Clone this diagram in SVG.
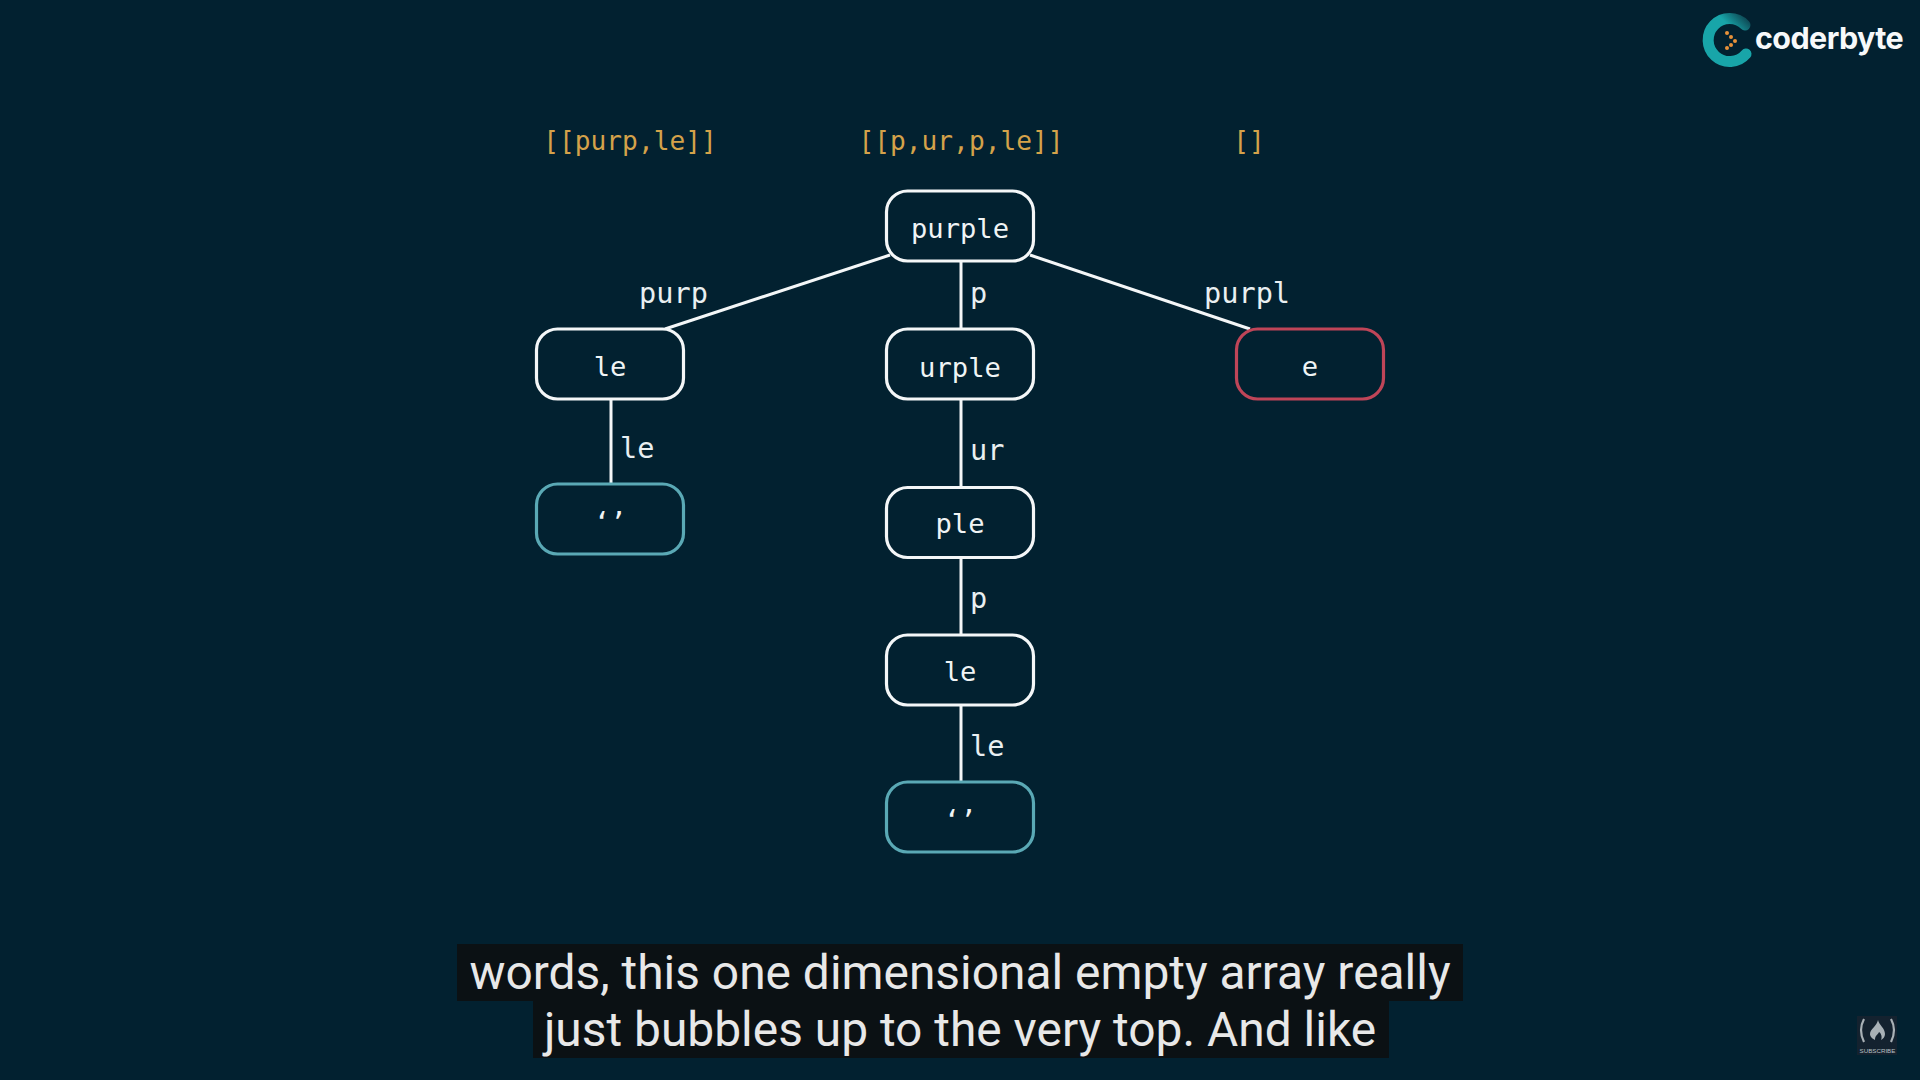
<svg xmlns="http://www.w3.org/2000/svg" width="1920" height="1080" viewBox="0 0 1920 1080">
<defs>
<style>
.n rect{fill:#022130;stroke:#f4f7f8;stroke-width:3.2}
.n.leaf rect{stroke:#5aa9b5}
.n.bad rect{stroke:#bf4558}
text{font-family:"DejaVu Sans Mono","Liberation Mono",monospace}
.t{font-size:27.2px;fill:#f0f4f5;text-anchor:middle}
.l{font-size:28.6px;fill:#e9eff1}
.r{font-size:26.2px;fill:#d4a24a;text-anchor:middle}
.c{font-family:Roboto,"Liberation Sans",sans-serif;font-size:47.9px;fill:#e8e8e8;text-anchor:middle}
#connectors line{stroke:#f4f7f8;stroke-width:3;fill:none}
</style>
<linearGradient id="cg" gradientUnits="userSpaceOnUse" x1="1712" y1="52" x2="1748" y2="16"><stop offset="0.6" stop-color="#18a5a9"/><stop offset="1" stop-color="#0c3b48"/></linearGradient>
</defs>
<rect width="1920" height="1080" fill="#022130"/>
<g id="results">
<text class="r" x="630" y="150">[[purp,le]]</text>
<text class="r" x="961" y="150">[[p,ur,p,le]]</text>
<text class="r" x="1249" y="150">[]</text>
</g>
<g id="connectors">
<line x1="890" y1="255" x2="665" y2="329"/>
<line x1="961" y1="262" x2="961" y2="329"/>
<line x1="1030" y1="255" x2="1250" y2="329"/>
<line x1="611" y1="400" x2="611" y2="484"/>
<line x1="961" y1="400" x2="961" y2="487"/>
<line x1="961" y1="558" x2="961" y2="635"/>
<line x1="961" y1="705" x2="961" y2="782"/>
</g>
<g id="edge-labels">
<text class="l" x="639" y="303">purp</text>
<text class="l" x="970" y="303">p</text>
<text class="l" x="1204" y="303">purpl</text>
<text class="l" x="620" y="458">le</text>
<text class="l" x="970" y="460">ur</text>
<text class="l" x="970" y="608">p</text>
<text class="l" x="970" y="756">le</text>
</g>
<g id="n-purple" class="n"><rect x="886.500" y="191" width="147" height="70" rx="21"/><text class="t" x="960" y="238">purple</text></g>
<g id="n-le1" class="n"><rect x="536.500" y="329" width="147" height="70" rx="21"/><text class="t" x="610" y="376">le</text></g>
<g id="n-urple" class="n"><rect x="886.500" y="329" width="147" height="70" rx="21"/><text class="t" x="960" y="377">urple</text></g>
<g id="n-e" class="n bad"><rect x="1236.500" y="329" width="147" height="70" rx="21"/><text class="t" x="1310" y="376">e</text></g>
<g id="n-empty1" class="n leaf"><rect x="536.500" y="484" width="147" height="70" rx="21"/><text class="t" x="610" y="531">‘’</text></g>
<g id="n-ple" class="n"><rect x="886.500" y="487.500" width="147" height="70" rx="21"/><text class="t" x="960" y="533">ple</text></g>
<g id="n-le2" class="n"><rect x="886.500" y="635" width="147" height="70" rx="21"/><text class="t" x="960" y="681">le</text></g>
<g id="n-empty2" class="n leaf"><rect x="886.500" y="782" width="147" height="70" rx="21"/><text class="t" x="960" y="829">‘’</text></g>
<g id="captions">
<rect x="457" y="944" width="1006" height="57" fill="#0b1114"/>
<rect x="533" y="1001" width="856" height="57" fill="#0b1114"/>
<text class="c" x="960" y="989">words, this one dimensional empty array really</text>
<text class="c" x="960" y="1046">just bubbles up to the very top. And like</text>
</g>
<g id="logo">
<path d="M1745 25A21.500 21.500 0 1 0 1746 54" fill="none" stroke="url(#cg)" stroke-width="11" stroke-linecap="round"/>
<g fill="#e8923a"><circle cx="1727" cy="33" r="2"/><circle cx="1731" cy="37" r="2"/><circle cx="1735" cy="41" r="2"/><circle cx="1731" cy="45" r="2"/><circle cx="1727" cy="48" r="2"/></g>
<text x="1755" y="49" style="font-family:Inter,'Liberation Sans',sans-serif;font-weight:700;font-size:30.500px;letter-spacing:-0.6px" fill="#f7f9fa">coderbyte</text>
</g>
<g id="subscribe">
<rect x="1857" y="1016" width="40" height="39" fill="#14222f"/>
<path d="M1864 1019q-6 11 0 23M1891 1019q6 11 0 23" fill="none" stroke="#a9b1b6" stroke-width="2.200"/>
<path d="M1878 1020c1 5 7 8 7 14c0 3-2 5-4 6c1-2 1-6-2-8c-1 3-4 3-4 8c-2-1-5-3-5-6c0-5 7-8 8-14z" fill="#a9b1b6"/>
<text x="1877.500" y="1053" text-anchor="middle" style="font-family:'Liberation Sans',sans-serif;font-size:6.200px" fill="#b9c1c6">SUBSCRIBE</text>
</g>
</svg>
